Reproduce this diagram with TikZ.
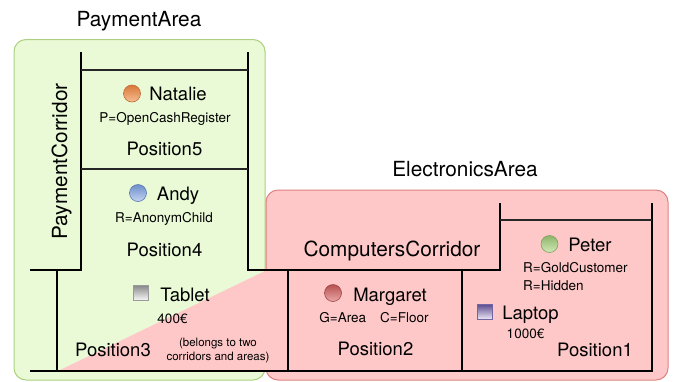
\documentclass[tikz,border=0pt]{standalone}
\usepackage{fontspec}
\setmainfont{TeX Gyre Heros}

\definecolor{payfill}{RGB}{234,250,214}
\definecolor{payedge}{RGB}{172,208,128}
\definecolor{elecfill}{RGB}{255,200,200}
\definecolor{elecedge}{RGB}{222,128,128}
% shaded markers: top, bottom and outline colours
\definecolor{orangetop}{HTML}{D9783A}\definecolor{orangebot}{HTML}{F6BE92}\definecolor{orangeedge}{HTML}{BF6A34}
\definecolor{bluetop}{HTML}{6F8FCB}\definecolor{bluebot}{HTML}{C4D4F2}\definecolor{blueedge}{HTML}{5A78B0}
\definecolor{redtop}{HTML}{B55050}\definecolor{redbot}{HTML}{EBA8A8}\definecolor{rededge}{HTML}{A04444}
\definecolor{greentop}{HTML}{8DB56A}\definecolor{greenbot}{HTML}{D2E9B6}\definecolor{greenedge}{HTML}{7FA060}
\definecolor{graytop}{HTML}{868686}\definecolor{graybot}{HTML}{F6F6F6}\definecolor{grayedge}{HTML}{9A9A9A}
\definecolor{purpletop}{HTML}{5E4E90}\definecolor{purplebot}{HTML}{EFEBF7}\definecolor{purpleedge}{HTML}{7464A4}

\tikzset{
  area/.style={rounded corners=12pt, line width=1pt},
  wall/.style={line width=2pt, black, line join=miter},
  rowline/.style={line width=1.3pt, black!85},
  headlabel/.style={font=\fontsize{20.8}{24}\selectfont, anchor=base, inner sep=0pt},
  midlabel/.style={font=\fontsize{18.5}{22}\selectfont, anchor=base, inner sep=0pt},
  smalllabel/.style={font=\fontsize{13.5}{16}\selectfont, anchor=base, inner sep=0pt},
  finelabel/.style={font=\fontsize{11.5}{14}\selectfont, anchor=base, inner sep=0pt, align=center},
  dot/.style={circle, minimum size=17pt, inner sep=0pt,
    top color=#1top, bottom color=#1bot, draw=#1edge, line width=0.6pt},
  item/.style={rectangle, minimum size=15pt, inner sep=0pt,
    top color=#1top, bottom color=#1bot, draw=#1edge, line width=0.6pt},
}

\begin{document}
\begin{tikzpicture}[x=1pt,y=-1pt]
\useasboundingbox (0,0) rectangle (676,381);

% the two areas
\draw[area, fill=payfill, draw=payedge] (14,39.5) rectangle (265,380);
\draw[area, fill=elecfill, draw=elecedge] (266,190) rectangle (668,380);
% Position3 is shared: its lower-right half belongs to the electronics area
\fill[elecfill] (58,371) -- (267,270) -- (288,270) -- (288,371) -- cycle;

% corridor walls
\draw[wall] (30,270) -- (81,270) -- (81,52);
\draw[wall] (248,52) -- (248,270) -- (500,270) -- (500,203);
\draw[wall] (652,203) -- (652,371) -- (30,371);
\draw[wall] (57,270) -- (57,371);
\draw[wall] (288,270) -- (288,371);
\draw[wall] (462,270) -- (462,371);
% position separators
\draw[rowline] (81,70) -- (248,70);
\draw[rowline] (81,169) -- (248,169);
\draw[rowline] (500,220) -- (652,220);

% area and corridor titles
\node[headlabel] (payarea) at (139,26) {PaymentArea};
\node[headlabel] (elecarea) at (465,176.7) {ElectronicsArea};
\node[headlabel] (compcorr) at (392,256) {ComputersCorridor};
\node[headlabel, rotate=90] (paycorr) at (67,161.5) {PaymentCorridor};

% Position5
\node[dot=orange] (nataliedot) at (132,93.5) {};
\node[midlabel] (natalie) at (178,100) {Natalie};
\node[smalllabel] (natrole) at (165,122) {P=OpenCashRegister};
\node[midlabel] (pos5) at (164.5,155.5) {Position5};

% Position4
\node[dot=blue] (andydot) at (138,193) {};
\node[midlabel] (andy) at (178,200.7) {Andy};
\node[smalllabel] (andyrole) at (164,222.7) {R=AnonymChild};
\node[midlabel] (pos4) at (164.5,256.7) {Position4};

% Position3
\node[item=gray] (tabletbox) at (141,292.5) {};
\node[midlabel] (tablet) at (185,301) {Tablet};
\node[smalllabel] (tabletprice) at (172.5,323.3) {400€};
\node[midlabel] (pos3) at (113,356) {Position3};
\node[finelabel] (shared) at (218,360.7) {(belongs to two\\corridors and areas)};

% Position2
\node[dot=red] (margaretdot) at (333,293) {};
\node[midlabel] (margaret) at (390,301) {Margaret};
\node[smalllabel] (margrole) at (374,322.7) {G=Area\hspace{14pt}C=Floor};
\node[midlabel] (pos2) at (375.5,355) {Position2};

% Position1
\node[dot=green] (peterdot) at (549.5,244) {};
\node[midlabel] (peter) at (590,251) {Peter};
\node[smalllabel, anchor=base west] (peterrole1) at (523,272.3) {R=GoldCustomer};
\node[smalllabel, anchor=base west] (peterrole2) at (523,290) {R=Hidden};
\node[item=purple] (laptopbox) at (484.5,312) {};
\node[midlabel] (laptop) at (530.5,319.3) {Laptop};
\node[smalllabel] (laptopprice) at (525.5,338.3) {1000€};
\node[midlabel] (pos1) at (595,356) {Position1};
\end{tikzpicture}
\end{document}
